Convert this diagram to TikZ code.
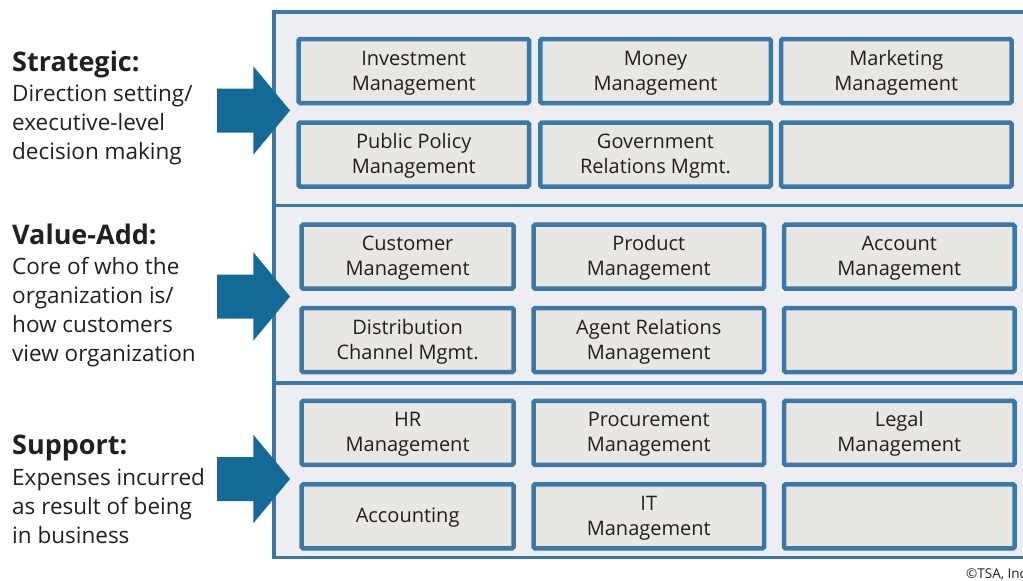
\documentclass[tikz,border=0pt]{standalone}
\usepackage{fontspec}
\setmainfont{Open Sans}
\definecolor{frameblue}{HTML}{3C78A5}
\definecolor{arrowblue}{HTML}{146A96}
\definecolor{boxgray}{HTML}{E8E7E3}
\definecolor{panelgray}{HTML}{EDEEF1}
\definecolor{inkgray}{HTML}{231F20}

\begin{document}
\begin{tikzpicture}[x=1pt, y=-1pt]
	\tikzset{fn/.style={draw=frameblue, line width=4.5pt, fill=boxgray, rounded corners=1.5pt, minimum width=230.5pt, minimum height=64pt, inner sep=0pt, align=center, text=inkgray, font=\fontsize{20}{25}\selectfont, text height=43pt, text depth=5pt},
		narrow/.style={minimum width=212pt},
		oneline/.style={text height=18pt},
		ttl/.style={anchor=base west, inner sep=0pt, text=inkgray, font=\fontsize{27}{32}\selectfont\bfseries},
		txt/.style={anchor=base west, inner sep=0pt, align=left, text=inkgray, font=\fontsize{22.5}{29}\selectfont}};

	\useasboundingbox (0,0) rectangle (1023,581);

	% panel
	\draw[frameblue, line width=3.5pt, fill=panelgray] (274,12) rectangle (1040,557.5);
	\draw[frameblue, line width=3.5pt] (274,205.5) -- (1040,205.5);
	\draw[frameblue, line width=3.5pt] (274,383) -- (1040,383);

	% strategic
	\node[fn] (inv) at (413.75,71) {Investment\\Management};
	\node[fn] (money) at (655.5,71) {Money\\Management};
	\node[fn] (mkt) at (896.25,71) {Marketing\\Management};
	\node[fn] (pub) at (413.75,154.6) {Public Policy\\Management};
	\node[fn] (gov) at (655.5,154.6) {Government\\Relations Mgmt.};
	\node[fn] (s6) at (896.25,154.6) {};

	% value-add
	\node[fn, narrow] (cust) at (407.6,256.7) {Customer\\Management};
	\node[fn] (prod) at (648.75,256.7) {Product\\Management};
	\node[fn] (acct) at (899.25,256.7) {Account\\Management};
	\node[fn, narrow] (dist) at (407.6,340) {Distribution\\Channel Mgmt.};
	\node[fn] (agent) at (648.75,340) {Agent Relations\\Management};
	\node[fn] (v6) at (899.25,340) {};

	% support
	\node[fn, narrow] (hr) at (407.6,432.9) {HR\\Management};
	\node[fn] (proc) at (648.75,432.9) {Procurement\\Management};
	\node[fn] (legal) at (899.25,432.9) {Legal\\Management};
	\node[fn, narrow, oneline] (acc) at (407.6,516.4) {Accounting};
	\node[fn] (it) at (648.75,516.4) {IT\\Management};
	\node[fn] (p6) at (899.25,516.4) {};

	% arrows
	\foreach \c in {110.5, 296.5, 479}
		\fill[arrowblue] (217,\c-22) -- (253.3,\c-22) -- (253.3,\c-44.3) -- (290,\c)
			-- (253.3,\c+44.3) -- (253.3,\c+22) -- (217,\c+22) -- cycle;

	% labels (base = last line)
	\node[ttl] (strat) at (12,71.5) {Strategic:};
	\node[txt] (strattxt) at (12,159) {Direction setting/\\executive-level\\decision making};
	\node[ttl] (value) at (12,244) {Value-Add:};
	\node[txt] (valuetxt) at (12,361) {Core of who the\\organization is/\\how customers\\view organization};
	\node[ttl] (supp) at (12,454) {Support:};
	\node[txt] (supptxt) at (12,543.5) {Expenses incurred\\as result of being\\in business};

	\node[anchor=base west, inner sep=0pt, text=inkgray, font=\fontsize{13.5}{16}\selectfont] (copy) at (966,578) {©TSA, Inc.};
\end{tikzpicture}
\end{document}
